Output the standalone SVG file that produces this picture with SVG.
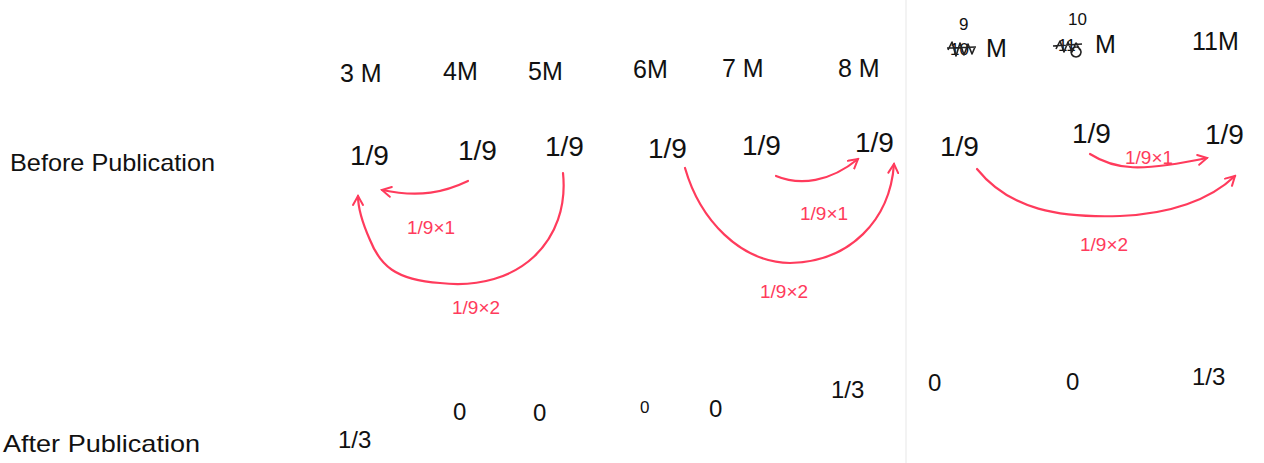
<svg xmlns="http://www.w3.org/2000/svg" width="1264" height="463" viewBox="0 0 1264 463">
<defs>
<marker id="ah" viewBox="0 0 12 12" refX="10" refY="6" markerWidth="12" markerHeight="12" markerUnits="userSpaceOnUse" orient="auto">
<path d="M1,1 L10,6 L1,11" fill="none" stroke="#ff3b5c" stroke-width="2" stroke-linecap="round"/>
</marker>
</defs>
<style>
text{font-family:"Liberation Sans","DejaVu Sans",sans-serif;fill:#111}
.hd{font-size:25px}
.fr{font-size:28px}
.lb{font-size:24px}
.bt{font-size:24px}
.rl{font-size:19px;fill:#ff3b5c}
.sm{font-size:17px}
.cn{fill:none;stroke:#ff3b5c;stroke-width:2.2;stroke-linecap:round}
.scr{fill:none;stroke:#222;stroke-width:1.6;stroke-linejoin:round}
</style>
<rect width="1264" height="463" fill="#fff"/>
<line x1="906" y1="0" x2="906" y2="463" stroke="#efefef" stroke-width="1.5"/>

<g id="row-labels">
<text class="lb" x="10" y="171" textLength="205" lengthAdjust="spacingAndGlyphs">Before Publication</text>
<text class="lb" x="3" y="452" textLength="197" lengthAdjust="spacingAndGlyphs">After Publication</text>
</g>

<g id="headers">
<text class="hd" x="340" y="82">3 M</text>
<text class="hd" x="443" y="80">4M</text>
<text class="hd" x="528" y="80">5M</text>
<text class="hd" x="633" y="78">6M</text>
<text class="hd" x="722" y="77">7 M</text>
<text class="hd" x="838" y="77">8 M</text>
<g id="h9">
<text class="sm" x="959" y="30">9</text>
<text class="sm" x="950" y="55" fill="#333">10</text>
<path class="scr" d="M948,50 L952,42 L956,56 L960,43 L964,55 L968,44 L972,54 L975,47 M947,48 L976,47"/>
<text class="hd" x="986" y="57">M</text>
</g>
<g id="h10">
<text class="sm" x="1068" y="25">10</text>
<text class="sm" x="1058" y="51" fill="#333">11</text>
<path class="scr" d="M1053,46 L1082,44 M1056,49 L1060,41 L1064,52 L1068,42 L1072,52 L1076,43 L1080,50 M1076,47 a5,5 0 1,0 0.1,0"/>
<text class="hd" x="1095" y="53">M</text>
</g>
<text class="hd" x="1192" y="50">11M</text>
</g>

<g id="before">
<text class="fr" x="350" y="165">1/9</text>
<text class="fr" x="458" y="160">1/9</text>
<text class="fr" x="545" y="156">1/9</text>
<text class="fr" x="648" y="158">1/9</text>
<text class="fr" x="742" y="155">1/9</text>
<text class="fr" x="855" y="152">1/9</text>
<text class="fr" x="940" y="156">1/9</text>
<text class="fr" x="1072" y="143">1/9</text>
<text class="fr" x="1205" y="144">1/9</text>
</g>

<g id="after">
<text class="bt" x="338" y="448">1/3</text>
<text class="bt" x="453" y="420">0</text>
<text class="bt" x="533" y="421">0</text>
<text class="sm" x="640" y="413">0</text>
<text class="bt" x="709" y="417">0</text>
<text class="bt" x="831" y="398">1/3</text>
<text class="bt" x="928" y="391">0</text>
<text class="bt" x="1066" y="390">0</text>
<text class="bt" x="1192" y="385">1/3</text>
</g>

<g id="connectors">
<path class="cn" marker-end="url(#ah)" d="M468,181 C445,192 420,198 382,190"/>
<path class="cn" marker-end="url(#ah)" d="M563,173 C570,240 520,292 440,283 C395,280 380,265 370,240 C362,222 358,208 358,196"/>
<path class="cn" marker-end="url(#ah)" d="M776,176 C800,186 830,182 858,159"/>
<path class="cn" marker-end="url(#ah)" d="M685,168 C700,220 740,262 790,263 C850,262 890,220 894,164"/>
<path class="cn" marker-end="url(#ah)" d="M1090,154 C1115,170 1140,172 1207,158"/>
<path class="cn" marker-end="url(#ah)" d="M977,169 C1010,210 1060,218 1120,216 C1170,214 1210,200 1235,176"/>
<text class="rl" x="407" y="234">1/9×1</text>
<text class="rl" x="452" y="314">1/9×2</text>
<text class="rl" x="800" y="220">1/9×1</text>
<text class="rl" x="760" y="298">1/9×2</text>
<text class="rl" x="1125" y="164">1/9×1</text>
<text class="rl" x="1080" y="251">1/9×2</text>
</g>
</svg>
